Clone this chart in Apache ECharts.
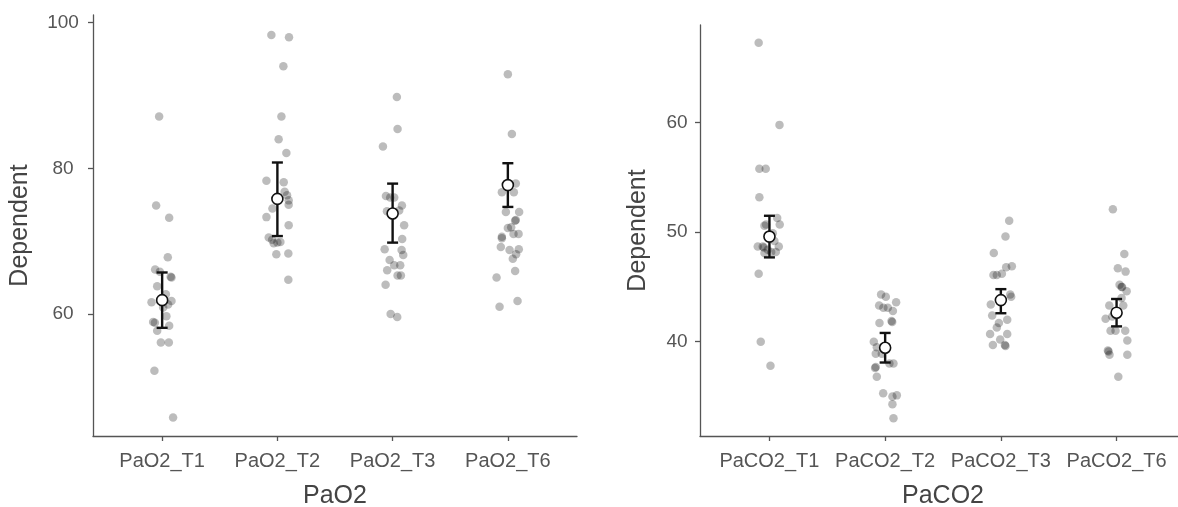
<!DOCTYPE html>
<html>
<head>
<meta charset="utf-8">
<script src="https://cdn.jsdelivr.net/npm/echarts@6/dist/echarts.min.js"></script>
<style>
  html, body { margin: 0; padding: 0; background: #fff; }
  #chart { width: 1178px; height: 507px; }
</style>
</head>
<body>
<div id="chart"></div>
<script>
// ---------- Left panel: PaO2 ----------
const pao2Categories = ['PaO2_T1', 'PaO2_T2', 'PaO2_T3', 'PaO2_T6'];
const pao2T1 = [87.1, 74.9, 73.2, 67.8, 66.1, 65.0, 65.1, 65.8, 63.8, 62.7, 61.6, 61.8, 61.3, 59.7, 58.9, 58.8, 58.4, 57.7, 56.1, 56.1, 52.2, 45.8, 60.9];
const pao2T1Jitter = [-0.026, -0.052, 0.061, 0.049, -0.061, 0.081, 0.074, -0.02, -0.043, 0.032, -0.092, 0.081, 0.052, 0.037, -0.078, -0.063, 0.061, -0.043, -0.011, 0.058, -0.067, 0.095, 0.009];
const pao2T2 = [98.3, 98.0, 94.0, 87.1, 84.0, 82.1, 78.3, 78.1, 76.8, 76.3, 75.6, 75.0, 74.5, 73.3, 72.2, 70.5, 70.2, 69.7, 69.9, 68.2, 68.3, 64.7, 69.8];
const pao2T2Jitter = [-0.052, 0.101, 0.052, 0.035, 0.011, 0.078, -0.095, 0.055, 0.063, 0.084, 0.098, 0.098, -0.043, -0.095, 0.098, -0.075, -0.046, -0.032, 0.026, -0.009, 0.095, 0.095, 0.0];
const pao2T3 = [89.8, 85.4, 83.0, 76.2, 76.0, 76.0, 74.9, 74.1, 74.2, 72.2, 70.3, 68.9, 68.8, 68.1, 67.4, 66.0, 66.7, 66.7, 65.3, 65.3, 64.0, 60.0, 59.6];
const pao2T3Jitter = [0.037, 0.043, -0.084, -0.058, -0.021, 0.014, 0.081, -0.049, 0.057, 0.1, 0.083, -0.069, 0.078, 0.092, -0.026, -0.047, 0.014, 0.066, 0.043, 0.072, -0.061, -0.017, 0.04];
const pao2T6 = [92.9, 84.7, 77.9, 76.7, 76.7, 74.0, 74.0, 72.8, 72.9, 71.8, 71.9, 71.0, 71.0, 70.6, 70.4, 69.2, 68.8, 68.9, 68.2, 67.6, 65.9, 65.0, 61.0, 61.8];
const pao2T6Jitter = [0, 0.035, 0.069, -0.052, 0.052, -0.017, 0.098, 0.063, 0.069, 0, 0.029, 0.049, 0.093, -0.052, -0.052, -0.061, 0.015, 0.095, 0.072, 0.043, 0.063, -0.098, -0.072, 0.084];
const pao2Means = [61.9, 75.8, 73.8, 77.7];
const pao2CiLow = [58.1, 70.7, 69.8, 74.7];
const pao2CiHigh = [65.7, 80.8, 77.9, 80.7];
const pao2YTicks = [60, 80, 100];

// ---------- Right panel: PaCO2 ----------
const paco2Categories = ['PaCO2_T1', 'PaCO2_T2', 'PaCO2_T3', 'PaCO2_T6'];
const paco2T1 = [67.3, 59.8, 55.8, 55.8, 53.2, 51.3, 50.7, 50.6, 50.7, 49.9, 48.7, 48.7, 48.6, 48.4, 48.7, 48.2, 48.1, 48.2, 46.2, 40.0, 37.8, 49.2];
const paco2T1Jitter = [-0.093, 0.087, -0.087, -0.032, -0.087, 0.067, 0.089, -0.043, -0.029, 0.029, -0.101, -0.058, -0.049, -0.015, 0.081, 0.015, -0.043, 0.055, -0.093, -0.075, 0.009, 0.043];
const paco2T2 = [44.3, 44.1, 43.6, 43.3, 43.1, 43.1, 42.8, 41.8, 41.9, 41.7, 40.0, 39.5, 38.9, 38.9, 38.0, 38.0, 37.7, 37.6, 36.8, 35.3, 35.0, 35.1, 34.3, 33.0];
const paco2T2Jitter = [-0.035, 0.006, 0.095, -0.052, -0.015, 0.023, 0.067, 0.061, 0.055, -0.049, -0.098, -0.072, -0.081, -0.029, 0.037, 0.072, -0.081, -0.087, -0.072, -0.017, 0.063, 0.101, 0.063, 0.072];
const paco2T3 = [51.05, 49.6, 48.1, 46.9, 46.8, 46.1, 46.1, 46.2, 44.1, 43.4, 42.4, 42.0, 41.7, 41.3, 40.7, 40.7, 40.2, 39.7, 39.6, 39.7, 44.3];
const paco2T3Jitter = [0.072, 0.04, -0.061, 0.095, 0.046, -0.064, -0.035, 0.009, 0.089, -0.087, -0.075, 0.055, -0.017, -0.035, -0.093, 0.055, -0.006, -0.069, 0.04, 0.035, 0.081];
const paco2T6 = [52.1, 48.0, 46.7, 46.4, 45.2, 45.0, 45.0, 44.6, 44.0, 43.3, 43.3, 42.1, 41.0, 41.0, 41.0, 40.1, 39.2, 39.1, 38.8, 38.8, 36.8, 42.3];
const paco2T6Jitter = [-0.032, 0.067, 0.011, 0.078, 0.026, 0.043, 0.048, 0.087, 0.043, -0.063, 0.058, -0.095, -0.052, -0.009, 0.075, 0.093, -0.075, -0.069, -0.061, 0.093, 0.015, -0.037];
const paco2Means = [49.6, 39.45, 43.8, 42.65];
const paco2CiLow = [47.7, 38.1, 42.6, 41.4];
const paco2CiHigh = [51.5, 40.8, 44.8, 43.9];
const paco2YTicks = [40, 50, 60];

const catIdx = [0, 1, 2, 3];

function buildPoints(groups, jitters) {
  const out = [];
  groups.forEach((vals, i) => vals.forEach((v, j) => out.push([i + jitters[i][j], v])));
  return out;
}

const leftPts = buildPoints([pao2T1, pao2T2, pao2T3, pao2T6], [pao2T1Jitter, pao2T2Jitter, pao2T3Jitter, pao2T6Jitter]);
const rightPts = buildPoints([paco2T1, paco2T2, paco2T3, paco2T6], [paco2T1Jitter, paco2T2Jitter, paco2T3Jitter, paco2T6Jitter]);

const textFont = '"Liberation Sans", Arial, sans-serif';
const axisColor = '#555';

function xAxisDef(gridIndex, cats, name) {
  return {
    type: 'value', gridIndex, min: -0.6, max: 3.6,
    name, nameLocation: 'middle', nameGap: 48,
    nameTextStyle: { fontSize: 25, color: '#444', fontFamily: textFont },
    axisLine: { show: true, onZero: false, lineStyle: { color: axisColor, width: 1.3 } },
    axisTick: { show: true, length: 5, customValues: catIdx, lineStyle: { color: axisColor, width: 1.3 } },
    axisLabel: { customValues: catIdx, formatter: v => cats[Math.round(v)], fontSize: 20, color: '#555', margin: 15, fontFamily: textFont },
    splitLine: { show: false }
  };
}

function yAxisDef(gridIndex, min, max, ticks, nameGap, labelMargin) {
  return {
    type: 'value', gridIndex, min, max,
    name: 'Dependent', nameLocation: 'middle', nameGap,
    nameTextStyle: { fontSize: 25, color: '#444', fontFamily: textFont },
    axisLine: { show: true, onZero: false, lineStyle: { color: axisColor, width: 1.3 } },
    axisTick: { show: true, length: 5, customValues: ticks, lineStyle: { color: axisColor, width: 1.3 } },
    axisLabel: { customValues: ticks, fontSize: 19, color: '#555', margin: labelMargin, align: 'center', fontFamily: textFont },
    splitLine: { show: false }
  };
}

function errorSeries(idx, means, lo, hi) {
  return {
    type: 'custom', xAxisIndex: idx, yAxisIndex: idx, z: 5,
    data: means.map((m, i) => [i, lo[i], hi[i]]),
    renderItem: (params, api) => {
      const x = api.value(0);
      const a = api.coord([x, api.value(1)]);
      const b = api.coord([x, api.value(2)]);
      const w = 5.5;
      const st = { stroke: '#111', lineWidth: 2.4 };
      return { type: 'group', children: [
        { type: 'line', shape: { x1: a[0], y1: a[1], x2: b[0], y2: b[1] }, style: st },
        { type: 'line', shape: { x1: a[0] - w, y1: a[1], x2: a[0] + w, y2: a[1] }, style: st },
        { type: 'line', shape: { x1: b[0] - w, y1: b[1], x2: b[0] + w, y2: b[1] }, style: st }
      ]};
    }
  };
}

function pointSeries(idx, pts) {
  return {
    type: 'scatter', xAxisIndex: idx, yAxisIndex: idx, z: 3,
    data: pts, symbolSize: 8.5, silent: true,
    itemStyle: { color: 'rgba(0,0,0,0.33)' }
  };
}

function meanSeries(idx, means) {
  return {
    type: 'scatter', xAxisIndex: idx, yAxisIndex: idx, z: 8,
    data: means.map((m, i) => [i, m]), symbolSize: 11, silent: true,
    itemStyle: { color: '#fff', borderColor: '#111', borderWidth: 1.6, opacity: 1 }
  };
}

const chart = echarts.init(document.getElementById('chart'), null, { renderer: 'canvas' });
chart.setOption({
  animation: false,
  backgroundColor: '#fff',
  grid: [
    { left: 93, top: 15, width: 484, height: 421, containLabel: false, outerBoundsMode: 'none' },
    { left: 700, top: 25, width: 486, height: 411, containLabel: false, outerBoundsMode: 'none' }
  ],
  xAxis: [xAxisDef(0, pao2Categories, 'PaO2'), xAxisDef(1, paco2Categories, 'PaCO2')],
  yAxis: [yAxisDef(0, 43.25, 101.05, pao2YTicks, 60, 30), yAxisDef(1, 31.39, 68.92, paco2YTicks, 49, 23)],
  series: [
    pointSeries(0, leftPts), errorSeries(0, pao2Means, pao2CiLow, pao2CiHigh), meanSeries(0, pao2Means),
    pointSeries(1, rightPts), errorSeries(1, paco2Means, paco2CiLow, paco2CiHigh), meanSeries(1, paco2Means)
  ]
});
</script>
</body>
</html>
